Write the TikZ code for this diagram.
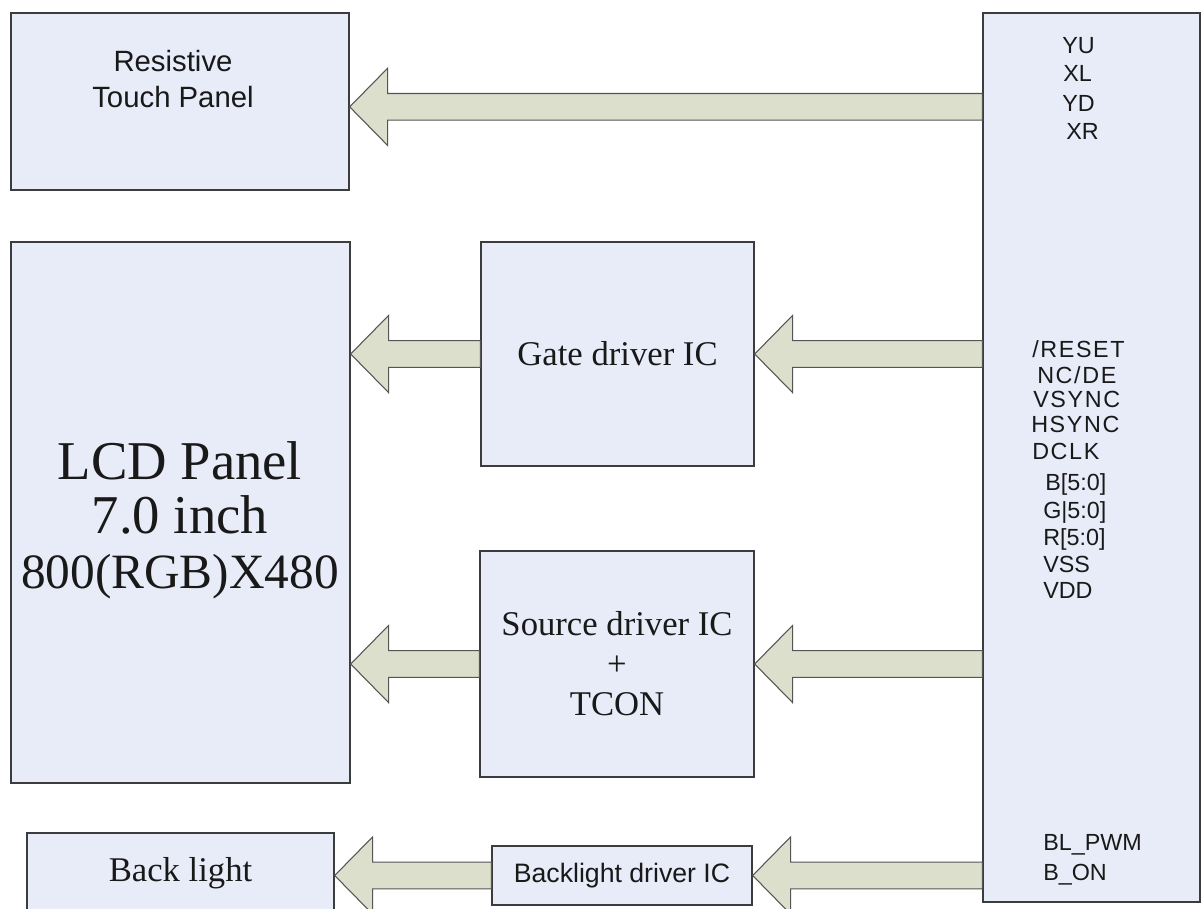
\documentclass[tikz,border=0pt]{standalone}
\usepackage{fontspec}
\setmainfont{Liberation Serif}
\setsansfont{Liberation Sans}
\usetikzlibrary{calc}

\definecolor{boxfill}{HTML}{E8ECF8}
\definecolor{boxline}{HTML}{3C3C3C}
\definecolor{arrowfill}{HTML}{DCDFCC}
\definecolor{arrowline}{HTML}{555555}

\tikzset{
  box/.style={draw=boxline, fill=boxfill, line width=1pt, inner sep=0pt, align=center, text=black!90},
  pin/.style={font=\sffamily\fontsize{17.5}{20}\selectfont, anchor=base west, inner sep=0pt, text=black!90},
  fat arrow/.style={draw=arrowline, fill=arrowfill, line width=0.8pt, line join=miter,
    to path={($(\tikztostart)+(0pt,-10pt)$) -- ($(\tikztotarget)+(28.5pt,-10pt)$)
      -- ($(\tikztotarget)+(28.5pt,-29pt)$) -- (\tikztotarget)
      -- ($(\tikztotarget)+(28.5pt,29pt)$) -- ($(\tikztotarget)+(28.5pt,10pt)$)
      -- ($(\tikztostart)+(0pt,10pt)$) -- cycle}},
}

\begin{document}
\begin{tikzpicture}[x=0.75pt, y=-0.75pt]
    % page
    \path[use as bounding box, fill=white] (0,0) rectangle (1203,908);

    % panels on the left
    \node[box, minimum width=253.5pt, minimum height=132.75pt] (touch) at (180,101.5) {};
    \node[font=\sffamily\fontsize{22}{27}\selectfont, align=center, text=black!90] (touchtxt) at (173,79) {Resistive\\Touch Panel};
    \node[box, minimum width=254.25pt, minimum height=405.75pt] (lcd) at (180.5,512.5) {};
    \node[align=center, text=black!90, font=\fontsize{41}{41}\selectfont] (lcdtxt) at (180,520)
        {LCD Panel\\7.0 inch\\\fontsize{37}{41}\selectfont 800(RGB)X480};
    \node[box, minimum width=230.25pt, minimum height=60pt, font=\fontsize{26}{30}\selectfont] (backlight) at (180.5,873) {Back light};

    % driver ICs
    \node[box, minimum width=204.75pt, minimum height=168pt, font=\fontsize{26}{30}\selectfont] (gate) at (617.5,354) {Gate driver IC};
    \node[box, minimum width=205.5pt, minimum height=169.5pt, font=\fontsize{26}{30}\selectfont] (source) at (617,664) {Source driver IC\\+\\TCON};
    \node[box, minimum width=195pt, minimum height=44.25pt, font=\sffamily\fontsize{20}{24}\selectfont] (bldrv) at (622,875.5) {Backlight driver IC};

    % connector
    \node[box, minimum width=162.75pt, minimum height=666.75pt] (ctrl) at (1091.5,457.5) {};

    % pin names
    \foreach \pin/\xx/\yy [count=\i] in {YU/1062/53, XL/1063/81, YD/1062/111, XR/1066/139}
        \node[pin] (tp-\i) at (\xx,\yy) {\pin};
    \foreach \pin/\xx/\yy [count=\i] in {{/RESET}/1032/357, {NC/DE}/1037/383, VSYNC/1033/407, HSYNC/1031/432, DCLK/1032/459}
        \node[pin, font=\sffamily\fontsize{17.5}{20}\selectfont\addfontfeatures{LetterSpace=7}] (ctl-\i) at (\xx,\yy) {\pin};
    \foreach \pin/\xx/\yy [count=\i] in {B[5:0]/1045/490, G|5:0]/1043/518, R[5:0]/1043/545, VSS/1043/572, VDD/1043/598}
        \node[pin] (rgb-\i) at (\xx,\yy) {\pin};
    \foreach \pin/\xx/\yy [count=\i] in {BL\_PWM/1043/850, B\_ON/1043/880}
        \node[pin] (bl-\i) at (\xx,\yy) {\pin};

    % arrows
    \coordinate (tp tip) at ([yshift=-4pt]touch.east);
    \coordinate (tp in) at (ctrl.west |- tp tip);
    \draw[fat arrow] (tp in) to (tp tip);

    \coordinate (g tip) at (lcd.east |- gate.west);
    \coordinate (g in) at (ctrl.west |- gate.east);
    \draw[fat arrow] (gate.west) to (g tip);
    \draw[fat arrow] (g in) to (gate.east);

    \coordinate (s tip) at (lcd.east |- source.west);
    \coordinate (s in) at (ctrl.west |- source.east);
    \draw[fat arrow] (source.west) to (s tip);
    \draw[fat arrow] (s in) to (source.east);

    \coordinate (b tip) at (backlight.east |- bldrv.west);
    \coordinate (b in) at (ctrl.west |- bldrv.east);
    \draw[fat arrow] (bldrv.west) to (b tip);
    \draw[fat arrow] (b in) to (bldrv.east);
\end{tikzpicture}
\end{document}
